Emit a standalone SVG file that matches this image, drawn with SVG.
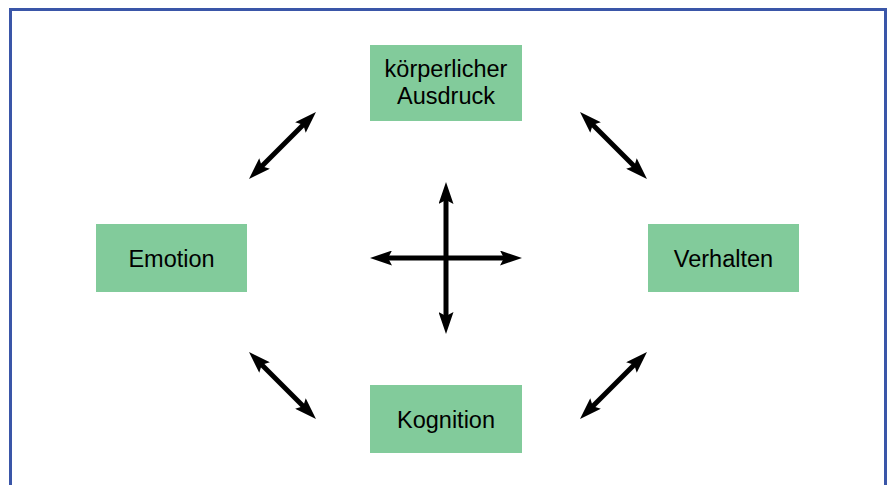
<svg xmlns="http://www.w3.org/2000/svg" width="888" height="485" viewBox="0 0 888 485">
  <defs>
    <style>
      .node rect { fill: #82cb9b; }
      .node text { font-family: "Liberation Sans", Arial, sans-serif; font-size: 23.5px; fill: #000; text-anchor: middle; }
      .conn line { stroke: #000; stroke-width: 5; }
    </style>
    <!-- shafts stop 12px short of each tip; the head covers the rest -->
    <marker id="head" viewBox="0 0 22 15" refX="10" refY="7.5" markerWidth="22" markerHeight="15" markerUnits="userSpaceOnUse" orient="auto-start-reverse">
      <path d="M0,0 L22,7.5 L0,15 L4,7.5 Z" fill="#000"/>
    </marker>
  </defs>
  <rect width="888" height="485" fill="#fff"/>
  <!-- frame: open at the bottom -->
  <path d="M10.5,485 V9.5 H885.5 V485" fill="none" stroke="#3a56a8" stroke-width="3"/>

  <g id="koerper" class="node">
    <rect x="370" y="45" width="152" height="76"/>
    <text x="446" y="77">körperlicher</text>
    <text x="446" y="103.5">Ausdruck</text>
  </g>
  <g id="emotion" class="node">
    <rect x="96" y="224" width="151" height="68"/>
    <text x="171.5" y="267">Emotion</text>
  </g>
  <g id="verhalten" class="node">
    <rect x="648" y="224" width="151" height="68"/>
    <text x="723.5" y="267">Verhalten</text>
  </g>
  <g id="kognition" class="node">
    <rect x="370" y="385" width="152" height="68"/>
    <text x="446" y="428">Kognition</text>
  </g>

  <g id="connectors" class="conn">
    <line x1="446" y1="194" x2="446" y2="322" marker-start="url(#head)" marker-end="url(#head)"/>
    <line x1="382" y1="258" x2="510" y2="258" marker-start="url(#head)" marker-end="url(#head)"/>
    <line x1="257.5" y1="170.5" x2="307.5" y2="120.5" marker-start="url(#head)" marker-end="url(#head)"/>
    <line x1="588.5" y1="120.5" x2="638.5" y2="170.5" marker-start="url(#head)" marker-end="url(#head)"/>
    <line x1="257.5" y1="360.5" x2="307.5" y2="410.5" marker-start="url(#head)" marker-end="url(#head)"/>
    <line x1="588.5" y1="410.5" x2="638.5" y2="360.5" marker-start="url(#head)" marker-end="url(#head)"/>
  </g>
</svg>
